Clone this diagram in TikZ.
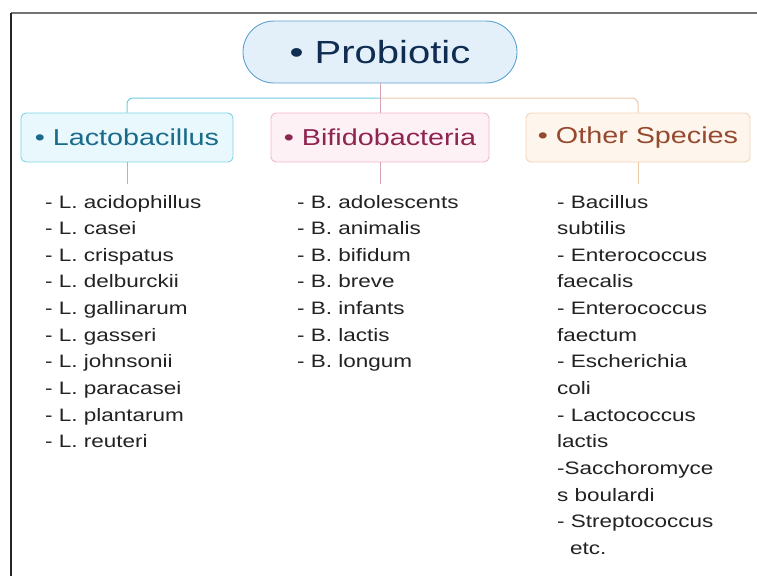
\documentclass[tikz,border=0pt]{standalone}
\usepackage{fontspec}
\setmainfont[FakeStretch=1.25]{Liberation Sans}
\definecolor{rootF}{HTML}{E3F0FA}
\definecolor{rootD}{HTML}{5BA3CF}
\definecolor{rootT}{HTML}{0F2D52}
\definecolor{lacF}{HTML}{E8F8FC}
\definecolor{lacD}{HTML}{7ED4E6}
\definecolor{lacT}{HTML}{1A6B8A}
\definecolor{lacL}{HTML}{6CCFE2}
\definecolor{bifF}{HTML}{FDF1F5}
\definecolor{bifD}{HTML}{F2B8CB}
\definecolor{bifT}{HTML}{8E2450}
\definecolor{bifL}{HTML}{D9A3B6}
\definecolor{othF}{HTML}{FEF5EC}
\definecolor{othD}{HTML}{F3D5B8}
\definecolor{othT}{HTML}{95492F}
\definecolor{othL}{HTML}{EFC9A8}
\definecolor{listc}{HTML}{222222}
\begin{document}
\begin{tikzpicture}[x=1pt,y=-1pt,
  rootbox/.style={rectangle, rounded corners=31pt, line width=0.9pt, minimum width=274pt, minimum height=62pt, inner sep=0pt, fill=rootF, draw=rootD, text=rootT, font=\fontsize{32}{36}\selectfont},
  catbox/.style={rectangle, rounded corners=5pt, line width=0.9pt, minimum height=49pt, inner sep=0pt, font=\fontsize{23}{26}\selectfont},
  lst/.style={anchor=base west, inner sep=0pt, font=\fontsize{18}{20}\selectfont, text=listc},
  conn/.style={line width=1pt}]
\useasboundingbox (0,0) rectangle (757,576);
\fill[white] (0,0) rectangle (757,576);
\draw[black!55, line width=1.5pt] (11,13) -- (757,13);
\draw[black!85, line width=1.5pt] (11,13) -- (11,576);

\node[rootbox] (root) at (380,52) {• Probiotic};
\node[catbox, fill=lacF, draw=lacD, text=lacT, minimum width=212pt] (lac) at (127,137.5) {• Lactobacillus};
\node[catbox, fill=bifF, draw=bifD, text=bifT, minimum width=218pt] (bif) at (380,137.5) {• Bifidobacteria};
\node[catbox, fill=othF, draw=othD, text=othT, minimum width=224pt] (oth) at (638,137.5) {• Other Species};

\coordinate (hub) at (380,98);
\coordinate (lacEnd) at (127,184);
\coordinate (bifEnd) at (380,184);
\coordinate (othEnd) at (638,184);

\draw[conn, lacL, rounded corners=6pt] (hub) -| (lac.north);
\draw[conn, othL, rounded corners=6pt] (hub) -| (oth.north);
\draw[conn, bifL] (root.south) -- (bif.north);
\draw[conn, lacL] (lac.south) -- (lacEnd);
\draw[conn, bifL] (bif.south) -- (bifEnd);
\draw[conn, othL] (oth.south) -- (othEnd);

\foreach \t [count=\i] in {- L. acidophillus, - L. casei, - L. crispatus, - L. delburckii, - L. gallinarum, - L. gasseri, - L. johnsonii, - L. paracasei, - L. plantarum, - L. reuteri}
  \node[lst] (lac\i) at (45,{208+(\i-1)*26.65}) {\t};

\foreach \t [count=\i] in {- B. adolescents, - B. animalis, - B. bifidum, - B. breve, - B. infants, - B. lactis, - B. longum}
  \node[lst] (bif\i) at (297,{208+(\i-1)*26.65}) {\t};

\foreach \t [count=\i] in {- Bacillus, subtilis, - Enterococcus, faecalis, - Enterococcus, faectum, - Escherichia, coli, - Lactococcus, lactis, -Sacchoromyce, s boulardi, - Streptococcus, \hspace{13pt}etc.}
  \node[lst] (oth\i) at (557,{208+(\i-1)*26.65}) {\t};
\end{tikzpicture}
\end{document}
